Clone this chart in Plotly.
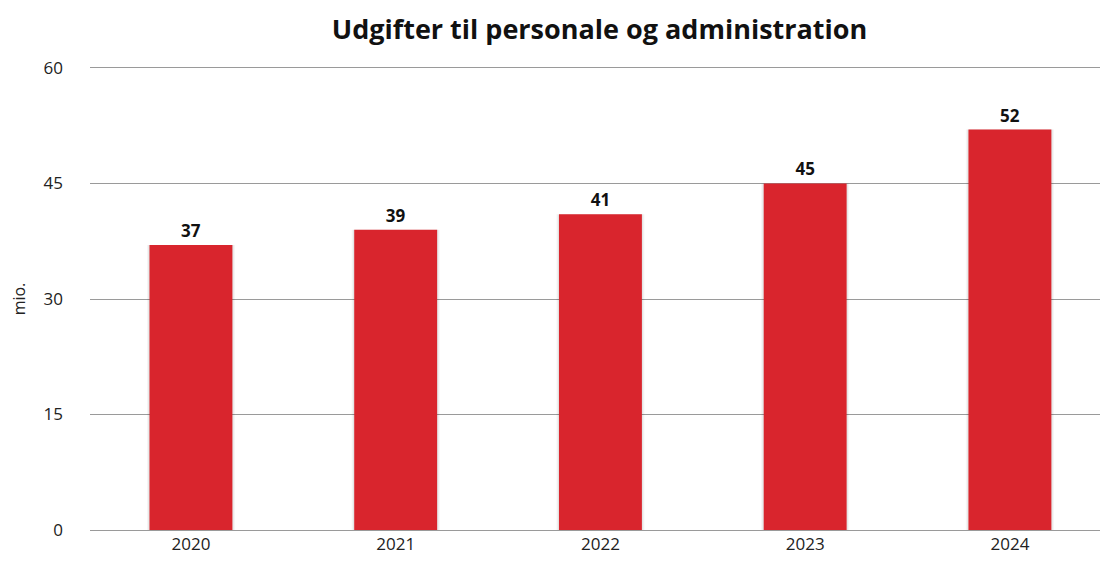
import plotly.graph_objects as go

years = ["2020", "2021", "2022", "2023", "2024"]
values = [37, 39, 41, 45, 52]
y_ticks = [0, 15, 30, 45, 60]

x_pos = list(range(len(years)))

fig = go.Figure()
# subtle soft shadow around bars
fig.add_trace(go.Bar(
    x=x_pos, y=values, width=0.43,
    marker=dict(color="rgba(0,0,0,0.04)", line=dict(width=0)),
    hoverinfo="skip", showlegend=False,
))
fig.add_trace(go.Bar(
    x=x_pos, y=values, width=0.418,
    marker=dict(color="rgba(0,0,0,0.06)", line=dict(width=0)),
    hoverinfo="skip", showlegend=False,
))
fig.add_trace(go.Bar(
    x=x_pos, y=values, width=0.405,
    marker=dict(color="#d9252d", line=dict(width=0)),
    text=[str(v) for v in values], textposition="outside",
    textfont=dict(family="Open Sans", size=17, color="#111111", weight="bold"),
    cliponaxis=False, showlegend=False,
))

fig.update_layout(
    width=1100, height=565,
    margin=dict(l=90, r=0, t=66, b=33),
    paper_bgcolor="white", plot_bgcolor="white",
    barmode="overlay",
    title=dict(text="<b>Udgifter til personale og administration</b>",
               x=0.545, xanchor="center", y=0.947, yanchor="middle",
               font=dict(family="Open Sans", size=27, color="#111111")),
    xaxis=dict(tickmode="array", tickvals=x_pos, ticktext=years,
               range=[-0.493, 4.44], showgrid=False, zeroline=False,
               showline=False, ticks="",
               tickfont=dict(family="Open Sans", size=17, color="#222222")),
    yaxis=dict(range=[-0.25, 60.25], tickvals=y_ticks, showgrid=True,
               gridcolor="#9a9a9a", gridwidth=1,
               zeroline=True, zerolinecolor="#9a9a9a", zerolinewidth=1,
               ticks="", ticklabelstandoff=26,
               tickfont=dict(family="Open Sans", size=17, color="#222222"),
               title=dict(text="mio.", standoff=13,
                          font=dict(family="Open Sans", size=16, color="#222222"))),
    bargap=0.5,
)

fig.write_html("out.html",
               config={"displayModeBar": False},
               post_script="document.body.style.margin='0';document.body.style.overflow='hidden';")
